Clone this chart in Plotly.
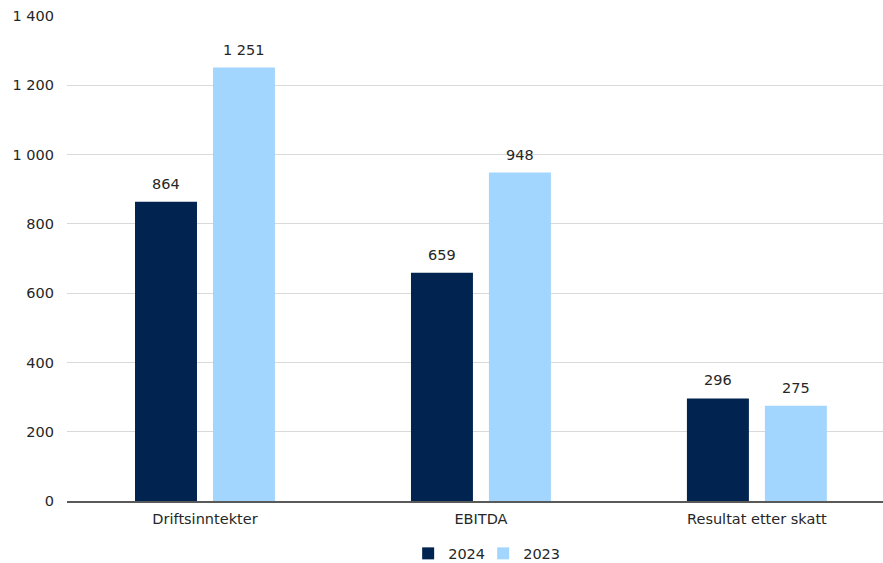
import plotly.graph_objects as go

categories = ["Driftsinntekter", "EBITDA", "Resultat etter skatt"]
values_2024 = [864, 659, 296]
values_2023 = [1251, 948, 275]
series_names = ["2024", "2023"]
y_ticks = [0, 200, 400, 600, 800, 1000, 1200, 1400]

font = "DejaVu Sans"
fsize = 14.5
txt_color = "#262626"
colors = ["#00234F", "#A3D6FF"]

fig = go.Figure()
for name, vals, col in zip(series_names, [values_2024, values_2023], colors):
    fig.add_trace(go.Bar(
        x=categories, y=vals, name=name,
        marker=dict(color=col, line=dict(width=0)),
    ))

# data labels above bars
for vals, shift in zip([values_2024, values_2023], [-39, 39]):
    for c, v in zip(categories, vals):
        fig.add_annotation(
            x=c, y=v, text=f"{v:,}".replace(",", " "), showarrow=False,
            xshift=shift, yshift=8, yanchor="bottom",
            font=dict(family=font, size=fsize, color=txt_color),
        )

fig.update_layout(
    width=883, height=563,
    margin=dict(l=67, r=0, t=16, b=62, autoexpand=False),
    paper_bgcolor="white", plot_bgcolor="white",
    separators=", ",
    barmode="group", bargap=0.435, bargroupgap=0.205,
    font=dict(family=font, size=fsize, color=txt_color),
    showlegend=True,
    legend=dict(orientation="h", x=0.51, xanchor="center",
                yref="container", y=0.017, yanchor="middle",
                font=dict(family=font, size=fsize, color=txt_color),
                itemwidth=30, entrywidth=30, traceorder="normal"),
)
fig.update_xaxes(
    range=[-0.5, 2.457], showline=True, linecolor="#595959", linewidth=1.5,
    ticks="", showgrid=False, automargin=False,
    ticklabelstandoff=4,
    tickfont=dict(family=font, size=fsize, color=txt_color),
)
fig.update_yaxes(
    range=[0, 1400], tickvals=y_ticks, tickformat=",d",
    showgrid=True, gridcolor="#D9D9D9", gridwidth=1,
    zeroline=False, showline=False, ticks="", automargin=False,
    ticklabelstandoff=12,
    tickfont=dict(family=font, size=fsize, color=txt_color),
)

post = (
    "document.body.style.margin='0';"
    "var gd=document.getElementsByClassName('plotly-graph-div')[0];"
    "function unclip(){document.querySelectorAll('.legend .scrollbox, .legend').forEach("
    "function(e){e.removeAttribute('clip-path');e.style.clipPath='none';});}"
    "unclip(); if(gd&&gd.on){gd.on('plotly_afterplot', unclip);}"
)
fig.write_html("out.html", config={"displayModeBar": False}, post_script=post)
